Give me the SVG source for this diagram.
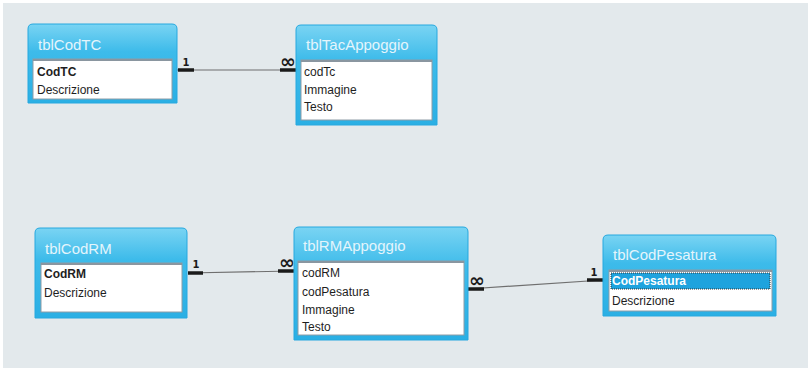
<svg xmlns="http://www.w3.org/2000/svg" width="811" height="372" viewBox="0 0 811 372">
<defs>
<linearGradient id="tg" x1="0" y1="0" x2="0" y2="1">
<stop offset="0" stop-color="#7ad4f3"/>
<stop offset="0.35" stop-color="#3dbbea"/>
<stop offset="1" stop-color="#2aafe4"/>
</linearGradient>
</defs>
<style>
.box{fill:url(#tg);stroke:#26a8df;stroke-width:1}
.inner{fill:#ffffff;stroke:#8e9ca6;stroke-width:1}
.sep{stroke:#8a96a0;stroke-width:2}
.title{font-family:"Liberation Sans",Arial,sans-serif;font-size:15px;fill:#e4f5fc}
.row{font-family:"Liberation Sans",Arial,sans-serif;font-size:12px;fill:#1e1e1e}
.key{font-weight:bold}
.line{stroke:#6f6f6f;stroke-width:1.2;fill:none}
.thick{stroke:#1a1a1a;stroke-width:3.5}
.card{font-family:"DejaVu Sans",sans-serif;font-size:10px;font-weight:bold;fill:#1a1a1a;text-anchor:middle}
.inf{font-size:19px}
</style>
<rect x="0" y="0" width="811" height="372" fill="#ffffff"/>
<rect x="3" y="3" width="805" height="365" fill="#e3e9ec"/>

<g id="connectors">
<line class="line" x1="177" y1="70" x2="296" y2="70"/>
<line class="thick" x1="178" y1="70" x2="194" y2="70"/>
<line class="thick" x1="280" y1="70" x2="296" y2="70"/>
<text class="card" x="186" y="66">1</text>
<text class="card inf" x="288" y="68">∞</text>

<line class="line" x1="188" y1="273" x2="294" y2="271"/>
<line class="thick" x1="188" y1="273" x2="203" y2="273"/>
<line class="thick" x1="278" y1="271" x2="294" y2="271"/>
<text class="card" x="196" y="268">1</text>
<text class="card inf" x="287" y="269">∞</text>

<line class="line" x1="468" y1="289" x2="603" y2="280"/>
<line class="thick" x1="468" y1="289" x2="484" y2="289"/>
<line class="thick" x1="587" y1="280" x2="603" y2="280"/>
<text class="card" x="594" y="276">1</text>
<text class="card inf" x="477" y="287">∞</text>
</g>

<g id="tblCodTC">
<path class="box" d="M28,103 V29 Q28,24 33,24 H172 Q177,24 177,29 V103 Z"/>
<rect class="inner" x="33" y="59" width="139" height="40"/>
<line class="sep" x1="33" y1="60" x2="172" y2="60"/>
<text class="title" x="38" y="50">tblCodTC</text>
<text class="row key" x="37" y="76">CodTC</text>
<text class="row" x="37" y="94">Descrizione</text>
</g>

<g id="tblTacAppoggio">
<path class="box" d="M296,125 V30 Q296,25 301,25 H432 Q437,25 437,30 V125 Z"/>
<rect class="inner" x="301" y="60" width="131" height="60"/>
<line class="sep" x1="301" y1="61" x2="432" y2="61"/>
<text class="title" x="306" y="50">tblTacAppoggio</text>
<text class="row" x="304" y="76">codTc</text>
<text class="row" x="304" y="94">Immagine</text>
<text class="row" x="304" y="111">Testo</text>
</g>

<g id="tblCodRM">
<path class="box" d="M35,318 V233 Q35,228 40,228 H182 Q187,228 187,233 V318 Z"/>
<rect class="inner" x="41" y="263" width="141" height="49"/>
<line class="sep" x1="41" y1="264" x2="182" y2="264"/>
<text class="title" x="45" y="254">tblCodRM</text>
<text class="row key" x="44" y="278">CodRM</text>
<text class="row" x="44" y="297">Descrizione</text>
</g>

<g id="tblRMAppoggio">
<path class="box" d="M294,340 V232 Q294,227 299,227 H463 Q468,227 468,232 V340 Z"/>
<rect class="inner" x="298" y="261" width="166" height="74"/>
<line class="sep" x1="298" y1="262" x2="464" y2="262"/>
<text class="title" x="303" y="251">tblRMAppoggio</text>
<text class="row" x="302" y="277">codRM</text>
<text class="row" x="302" y="296">codPesatura</text>
<text class="row" x="302" y="314">Immagine</text>
<text class="row" x="302" y="331">Testo</text>
</g>

<g id="tblCodPesatura">
<path class="box" d="M603,316 V240 Q603,235 608,235 H771 Q776,235 776,240 V316 Z"/>
<rect class="inner" x="609" y="270" width="163" height="41"/>
<line class="sep" x1="609" y1="271" x2="772" y2="271"/>
<rect x="611" y="273" width="159" height="16" fill="#1ea3de" stroke="#333" stroke-width="1" stroke-dasharray="1 1"/>
<text class="title" x="613" y="260">tblCodPesatura</text>
<text class="row key" x="612" y="285" style="fill:#ffffff">CodPesatura</text>
<text class="row" x="612" y="305">Descrizione</text>
</g>
</svg>
